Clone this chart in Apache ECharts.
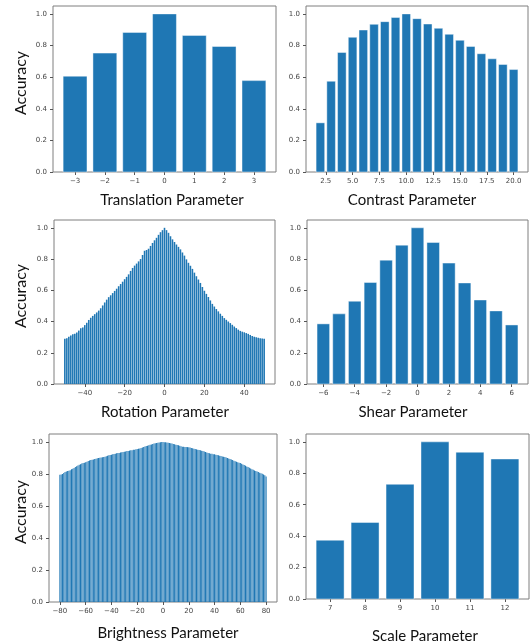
<!DOCTYPE html>
<html>
<head>
<meta charset="utf-8">
<style>
html, body { margin: 0; padding: 0; background: #fff; }
#chart { width: 531px; height: 644px; }
</style>
<script src="https://cdn.jsdelivr.net/npm/echarts@6/dist/echarts.min.js"></script>
</head>
<body>
<div id="chart"></div>
<script>
// accuracy tick labels (shared by all six panels)
var accTicks = [0, 0.2, 0.4, 0.6, 0.8, 1.0];

var translationX = [-3, -2, -1, 0, 1, 2, 3];
var translationAcc = [0.606, 0.752, 0.883, 1.0, 0.864, 0.794, 0.578];
var translationTicks = [-3, -2, -1, 0, 1, 2, 3];

var contrastX = [2, 3, 4, 5, 6, 7, 8, 9, 10, 11, 12, 13, 14, 15, 16, 17, 18, 19, 20];
var contrastAcc = [0.311, 0.574, 0.756, 0.852, 0.898, 0.934, 0.951, 0.977, 1.0, 0.970,
  0.936, 0.909, 0.871, 0.833, 0.794, 0.748, 0.716, 0.680, 0.648];
var contrastTicks = [2.5, 5, 7.5, 10, 12.5, 15, 17.5, 20];

// rotation: -50 .. 50 degrees, one bar per degree
var rotationStart = -50;
var rotationAcc = [
  0.290, 0.293, 0.303, 0.310, 0.318, 0.322, 0.330, 0.342, 0.357, 0.362,
  0.377, 0.392, 0.410, 0.424, 0.436, 0.447, 0.458, 0.470, 0.485, 0.503,
  0.522, 0.540, 0.556, 0.568, 0.582, 0.596, 0.610, 0.626, 0.640, 0.655,
  0.671, 0.686, 0.702, 0.724, 0.743, 0.758, 0.771, 0.785, 0.800, 0.826,
  0.853, 0.858, 0.866, 0.884, 0.903, 0.920, 0.936, 0.955, 0.972, 0.985,
  1.000,
  0.985, 0.968, 0.946, 0.926, 0.909, 0.893, 0.878, 0.862, 0.842, 0.822,
  0.798, 0.776, 0.757, 0.737, 0.713, 0.690, 0.669, 0.647, 0.621, 0.597,
  0.577, 0.557, 0.535, 0.513, 0.496, 0.480, 0.465, 0.450, 0.436, 0.422,
  0.411, 0.400, 0.390, 0.379, 0.368, 0.358, 0.348, 0.340, 0.335, 0.331,
  0.326, 0.321, 0.314, 0.308, 0.303, 0.299, 0.296, 0.293, 0.291, 0.289
];
var rotationTicks = [-40, -20, 0, 20, 40];

var shearX = [-6, -5, -4, -3, -2, -1, 0, 1, 2, 3, 4, 5, 6];
var shearAcc = [0.385, 0.449, 0.530, 0.650, 0.793, 0.889, 1.0, 0.906, 0.774, 0.647, 0.538, 0.468, 0.378];
var shearTicks = [-6, -4, -2, 0, 2, 4, 6];

// brightness: -80 .. 80, one bar per step
var brightnessStart = -80;
var brightnessAcc = [
  0.795, 0.797, 0.800, 0.806, 0.812, 0.816, 0.818, 0.820, 0.824, 0.829,
  0.833, 0.838, 0.843, 0.848, 0.853, 0.858, 0.861, 0.865, 0.868, 0.871,
  0.874, 0.877, 0.881, 0.884, 0.887, 0.889, 0.891, 0.893, 0.896, 0.898,
  0.900, 0.901, 0.903, 0.905, 0.906, 0.908, 0.911, 0.914, 0.917, 0.919,
  0.921, 0.923, 0.925, 0.927, 0.929, 0.931, 0.932, 0.934, 0.936, 0.937,
  0.939, 0.941, 0.943, 0.944, 0.946, 0.948, 0.949, 0.951, 0.952, 0.954,
  0.956, 0.958, 0.960, 0.962, 0.965, 0.969, 0.972, 0.975, 0.977, 0.980,
  0.983, 0.985, 0.988, 0.990, 0.992, 0.994, 0.996, 0.997, 0.999, 1.000,
  1.000,
  0.999, 0.998, 0.997, 0.995, 0.994, 0.992, 0.990, 0.988, 0.986, 0.983,
  0.981, 0.979, 0.976, 0.973, 0.971, 0.970, 0.969, 0.968, 0.968, 0.967,
  0.965, 0.963, 0.961, 0.958, 0.956, 0.954, 0.952, 0.950, 0.948, 0.946,
  0.943, 0.940, 0.937, 0.934, 0.931, 0.929, 0.927, 0.926, 0.924, 0.923,
  0.921, 0.919, 0.917, 0.914, 0.912, 0.910, 0.908, 0.906, 0.903, 0.900,
  0.897, 0.894, 0.890, 0.887, 0.883, 0.880, 0.877, 0.874, 0.871, 0.868,
  0.864, 0.860, 0.856, 0.852, 0.847, 0.843, 0.839, 0.835, 0.830, 0.826,
  0.822, 0.819, 0.815, 0.812, 0.808, 0.805, 0.801, 0.797, 0.792, 0.785
];
var brightnessTicks = [-80, -60, -40, -20, 0, 20, 40, 60, 80];

var scaleX = [7, 8, 9, 10, 11, 12];
var scaleAcc = [0.374, 0.487, 0.730, 1.0, 0.934, 0.891];
var scaleTicks = [7, 8, 9, 10, 11, 12];

var rotationX = rotationAcc.map(function (v, i) { return rotationStart + i; });
var brightnessX = brightnessAcc.map(function (v, i) { return brightnessStart + i; });

var panels = [
  { x: translationX, y: translationAcc, ticks: translationTicks, dec: 0, title: 'Translation Parameter',
    grid: { left: 53, top: 6, width: 223, height: 166 }, titlePos: [172, 200], ylabel: true },
  { x: contrastX, y: contrastAcc, ticks: contrastTicks, dec: 1, title: 'Contrast Parameter',
    grid: { left: 306, top: 6, width: 222, height: 166 }, titlePos: [412, 200] },
  { x: rotationX, y: rotationAcc, ticks: rotationTicks, dec: 0, title: 'Rotation Parameter',
    grid: { left: 54, top: 220, width: 221, height: 164 }, titlePos: [165, 412], ylabel: true, thin: true },
  { x: shearX, y: shearAcc, ticks: shearTicks, dec: 0, title: 'Shear Parameter',
    grid: { left: 307, top: 220, width: 221, height: 164 }, titlePos: [413, 412] },
  { x: brightnessX, y: brightnessAcc, ticks: brightnessTicks, dec: 0, title: 'Brightness Parameter',
    grid: { left: 49, top: 434, width: 228, height: 168 }, titlePos: [168, 633], ylabel: true, thin: true },
  { x: scaleX, y: scaleAcc, ticks: scaleTicks, dec: 0, title: 'Scale Parameter',
    grid: { left: 306, top: 434, width: 223, height: 165 }, titlePos: [425, 636] }
];

var barW = 0.8;
var tickFont = { fontSize: 7, color: '#444', fontFamily: 'DejaVu Sans' };

function fmt(dec) {
  return function (v) { return Number(v).toFixed(dec).replace('-', '\u2212'); };
}

function makeRenderer(thin) {
  return function (params, api) {
    var x = api.value(0), y = api.value(1);
    var p0 = api.coord([x - barW / 2, y]);
    var p1 = api.coord([x + barW / 2, 0]);
    return {
      type: 'rect',
      shape: { x: p0[0], y: p0[1], width: p1[0] - p0[0], height: p1[1] - p0[1] },
      style: thin
        ? { fill: '#1f77b4' }
        : { fill: '#1f77b4', stroke: 'rgba(255,255,255,0.55)', lineWidth: 0.8 }
    };
  };
}

var grids = [], xAxes = [], yAxes = [], series = [], graphics = [];
panels.forEach(function (p, i) {
  var lo = p.x[0] - barW / 2, hi = p.x[p.x.length - 1] + barW / 2;
  var pad = (hi - lo) * 0.05;
  grids.push(Object.assign({ show: true, borderColor: '#7f7f7f', borderWidth: 1, backgroundColor: 'transparent' }, p.grid));
  xAxes.push({
    type: 'value', gridIndex: i, min: lo - pad, max: hi + pad,
    axisLine: { show: false, onZero: false }, splitLine: { show: false },
    axisTick: { show: true, length: 3, customValues: p.ticks, lineStyle: { color: '#555' } },
    axisLabel: Object.assign({ customValues: p.ticks, margin: 6, formatter: fmt(p.dec) }, tickFont)
  });
  yAxes.push({
    type: 'value', gridIndex: i, min: 0, max: 1.05,
    axisLine: { show: false, onZero: false }, splitLine: { show: false },
    axisTick: { show: true, length: 3, customValues: accTicks, lineStyle: { color: '#555' } },
    axisLabel: Object.assign({ customValues: accTicks, margin: 6, formatter: fmt(1) }, tickFont)
  });
  series.push({
    type: 'custom', xAxisIndex: i, yAxisIndex: i, renderItem: makeRenderer(p.thin),
    data: p.x.map(function (x, k) { return [x, p.y[k]]; })
  });
  graphics.push({
    type: 'text', x: p.titlePos[0], y: p.titlePos[1],
    style: { text: p.title, fontSize: 15, fontFamily: 'Lato', fill: '#111', textAlign: 'center', textVerticalAlign: 'middle' }
  });
  if (p.ylabel) {
    graphics.push({
      type: 'text', x: 21, y: p.grid.top + p.grid.height / 2 - 6, rotation: Math.PI / 2,
      style: { text: 'Accuracy', fontSize: 16, fontFamily: 'Lato', fill: '#111', textAlign: 'center', textVerticalAlign: 'middle' }
    });
  }
});

var chart = echarts.init(document.getElementById('chart'));
chart.setOption({
  animation: false,
  grid: grids,
  xAxis: xAxes,
  yAxis: yAxes,
  series: series,
  graphic: graphics
});
</script>
</body>
</html>
